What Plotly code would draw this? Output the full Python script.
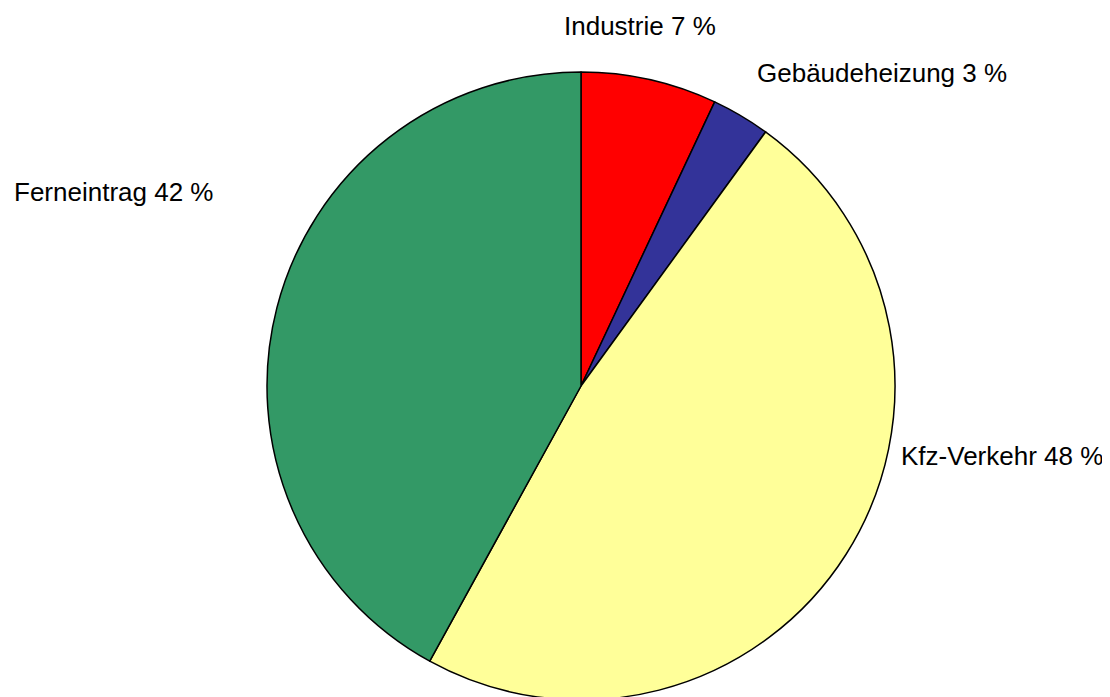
import plotly.graph_objects as go

labels = ["Industrie", "Gebäudeheizung", "Kfz-Verkehr", "Ferneintrag"]
values = [7, 3, 48, 42]
colors = ["#FF0000", "#333399", "#FFFF99", "#339966"]
# label anchor positions (pixel centres within the figure)
label_px = [(632, 18), (874, 65), (994, 448), (105, 184)]

W, H = 1110, 697

fig = go.Figure(go.Pie(
    labels=labels,
    values=values,
    sort=False,
    direction="clockwise",
    rotation=0,
    marker=dict(colors=colors, line=dict(color="black", width=1.5)),
    textinfo="none",
    hoverinfo="label+percent",
    domain=dict(x=[259 / W, 887 / W], y=[5 / H, 633 / H]),
    showlegend=False,
))

for lab, val, (px, py) in zip(labels, values, label_px):
    fig.add_annotation(
        x=px / W, y=1 - py / H, xref="paper", yref="paper",
        text=f"{lab} {val} %", showarrow=False,
        xanchor="center", yanchor="middle",
        font=dict(family="Liberation Sans, Arial, sans-serif", size=26, color="black"),
    )

fig.update_layout(
    width=W, height=H,
    margin=dict(l=0, r=0, t=0, b=0),
    paper_bgcolor="white", plot_bgcolor="white",
)

fig.write_html("out.html")
